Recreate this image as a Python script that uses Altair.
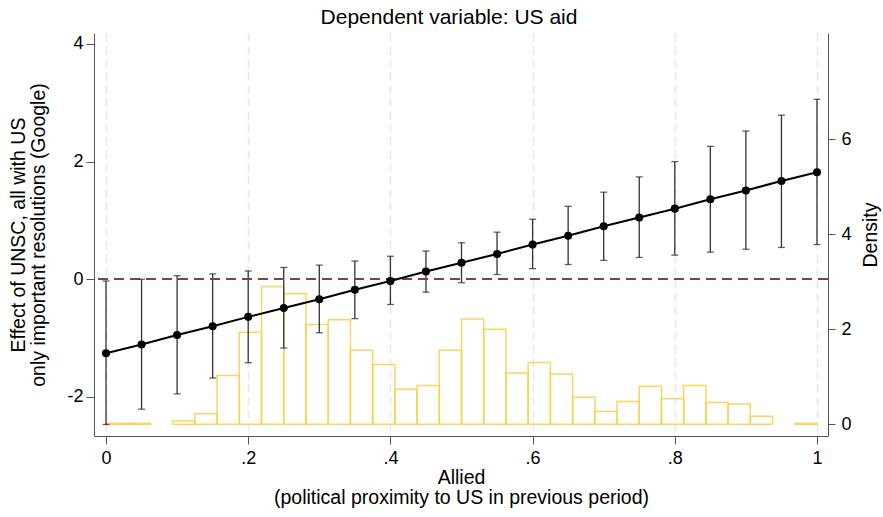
import altair as alt
import pandas as pd

# ---- data ----
x_vals = [0.0, 0.05, 0.1, 0.15, 0.2, 0.25, 0.3, 0.35, 0.4, 0.45, 0.5,
          0.55, 0.6, 0.65, 0.7, 0.75, 0.8, 0.85, 0.9, 0.95, 1.0]
effect = [-1.26, -1.11, -0.95, -0.80, -0.64, -0.49, -0.34, -0.18, -0.03, 0.13, 0.28,
          0.43, 0.59, 0.74, 0.90, 1.05, 1.20, 1.36, 1.51, 1.67, 1.82]
ci_low = [-2.47, -2.21, -1.95, -1.68, -1.42, -1.17, -0.91, -0.67, -0.43, -0.22, -0.06,
          0.08, 0.18, 0.25, 0.32, 0.37, 0.41, 0.46, 0.51, 0.54, 0.59]
ci_high = [-0.03, 0.00, 0.06, 0.09, 0.14, 0.20, 0.24, 0.31, 0.39, 0.48, 0.62,
           0.80, 1.02, 1.24, 1.48, 1.74, 2.00, 2.26, 2.52, 2.79, 3.06]

bin_width = 0.03125
bin_start = [0.0, 0.03125, 0.09375, 0.125, 0.15625, 0.1875, 0.21875, 0.25, 0.28125,
             0.3125, 0.34375, 0.375, 0.40625, 0.4375, 0.46875, 0.5, 0.53125, 0.5625,
             0.59375, 0.625, 0.65625, 0.6875, 0.71875, 0.75, 0.78125, 0.8125, 0.84375,
             0.875, 0.90625, 0.96875]
density = [0.02, 0.02, 0.07, 0.22, 1.03, 1.94, 2.90, 2.75, 2.10,
           2.20, 1.56, 1.26, 0.74, 0.82, 1.56, 2.22, 2.00, 1.08,
           1.30, 1.06, 0.57, 0.27, 0.48, 0.80, 0.54, 0.82, 0.46,
           0.43, 0.17, 0.02]

x_ticks = [0, 0.2, 0.4, 0.6, 0.8, 1]
y_ticks = [-2, 0, 2, 4]
dens_ticks = [0, 2, 4, 6]

title_text = "Dependent variable: US aid"
x_title = ["Allied", "(political proximity to US in previous period)"]
y_title = ["Effect of UNSC, all with US", "only important resolutions (Google)"]
y2_title = "Density"

FONT = "Liberation Sans"

eff_df = pd.DataFrame({"x": x_vals, "effect": effect, "lo": ci_low, "hi": ci_high})
hist_df = pd.DataFrame({"x0": bin_start, "density": density})
hist_df["x1"] = hist_df["x0"] + bin_width

x_scale = alt.Scale(domain=[-0.0169, 1.0155], nice=False, zero=False)
y_scale = alt.Scale(domain=[-2.666, 4.187], nice=False, zero=False)
d_scale = alt.Scale(domain=[-0.246, 8.24], nice=False, zero=False)

x_axis = alt.Axis(
    values=x_ticks,
    labelExpr="datum.value > 0 && datum.value < 1 ? substring(format(datum.value, '.1f'), 1) : format(datum.value, 'd')",
    grid=True, gridDash=[8, 5], gridColor="#e6e6e6", gridWidth=1.5,
    tickSize=8, tickColor="#555", domainColor="#555", labelPadding=5,
    title=x_title, titlePadding=1,
)
y_axis = alt.Axis(
    values=y_ticks, orient="left", grid=False, tickSize=8, tickColor="#555",
    labelExpr="datum.value + ''",
    domainColor="#555", labelPadding=3, title=y_title, titlePadding=18,
    titleAlign="center",
)
d_axis = alt.Axis(
    values=dens_ticks, orient="right", grid=False, tickSize=7, tickColor="#555",
    domainColor="#555", labelPadding=6, title=y2_title,
    titleAngle=270, titleBaseline="middle", titleAlign="center", titleX=42, titleY=201.5,
)

hist = alt.Chart(hist_df).mark_rect(
    fill="#ffffff", fillOpacity=0, stroke="#FCCF4E", strokeWidth=1.5, strokeOpacity=0.9
).encode(
    x=alt.X("x0:Q", scale=x_scale, axis=x_axis),
    x2="x1:Q",
    y=alt.Y("density:Q", scale=d_scale, axis=d_axis),
    y2=alt.datum(0),
)

base = alt.Chart(eff_df)

zero_rule = alt.Chart(eff_df).mark_rule(
    color="#8E3B3B", strokeDash=[10, 6], strokeWidth=1.5
).encode(y=alt.datum(0, scale=y_scale, axis=y_axis))

bars = base.mark_rule(color="#333333", strokeWidth=1.3).encode(
    x=alt.X("x:Q", scale=x_scale, axis=x_axis),
    y=alt.Y("lo:Q", scale=y_scale, axis=y_axis),
    y2="hi:Q",
)
cap_lo = base.mark_tick(orient="horizontal", size=7, thickness=1.3, color="#222222").encode(
    x=alt.X("x:Q", scale=x_scale), y=alt.Y("lo:Q", scale=y_scale)
)
cap_hi = base.mark_tick(orient="horizontal", size=7, thickness=1.3, color="#222222").encode(
    x=alt.X("x:Q", scale=x_scale), y=alt.Y("hi:Q", scale=y_scale)
)
line = base.mark_line(color="#000000", strokeWidth=2).encode(
    x=alt.X("x:Q", scale=x_scale), y=alt.Y("effect:Q", scale=y_scale)
)
pts = base.mark_circle(color="#000000", size=65, opacity=1).encode(
    x=alt.X("x:Q", scale=x_scale), y=alt.Y("effect:Q", scale=y_scale)
)

left = alt.layer(bars, zero_rule, cap_lo, cap_hi, line, pts)

chart = alt.layer(hist, left).resolve_scale(y="independent").properties(
    width=734, height=403,
    autosize=alt.AutoSizeParams(type="none"),
    padding={"left": 94, "top": 33, "right": 55, "bottom": 81},
    title=alt.TitleParams(title_text, font=FONT, fontSize=21, fontWeight="normal",
                          color="#000", anchor="middle", frame="group", dx=-12, offset=5),
).configure_view(stroke=None).configure_axis(
    labelFont=FONT, titleFont=FONT, labelFontSize=18, titleFontSize=19.5,
    titleFontWeight="normal", labelColor="#000", titleColor="#000", titleLineHeight=20,
)

chart.save("out.html", embed_options={"renderer": "svg", "actions": False})
